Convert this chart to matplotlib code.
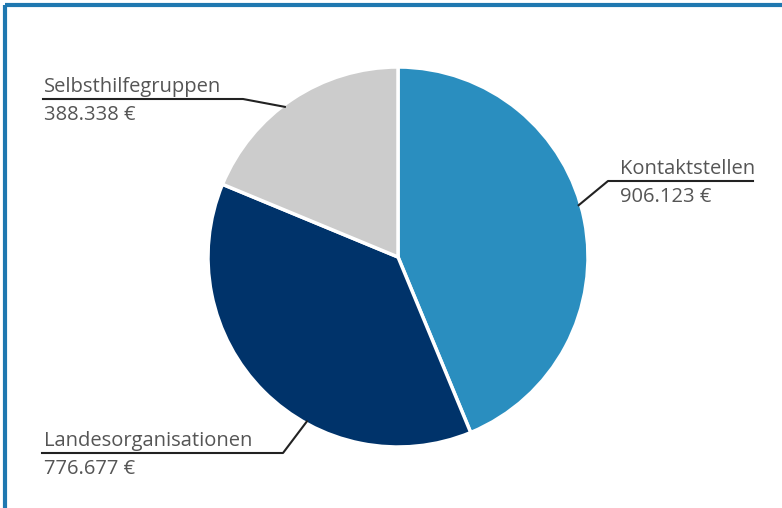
import numpy as np
import matplotlib.pyplot as plt
from matplotlib import font_manager

# Funding by recipient group
labels = ['Kontaktstellen', 'Landesorganisationen', 'Selbsthilfegruppen']
values = [906123, 776677, 388338]
colors = ['#2a8ebf', '#00336a', '#cccccc']

families = [f.name for f in font_manager.fontManager.ttflist]
font = 'Liberation Sans Narrow' if 'Liberation Sans Narrow' in families else 'Open Sans'
plt.rcParams['font.family'] = [font, 'DejaVu Sans']

W, H = 782, 508
fig = plt.figure(figsize=(W / 100, H / 100), dpi=100)
ax = fig.add_axes([0, 0, 1, 1])

cx, cy, r = 398, H - 257, 190
ax.pie(values, colors=colors, startangle=90, counterclock=False,
       center=(cx, cy), radius=r, frame=True,
       wedgeprops=dict(edgecolor='white', linewidth=2.5))
ax.set_xlim(0, W)
ax.set_ylim(0, H)
ax.set_aspect('equal')
ax.axis('off')

# frame: top and left edges only
ax.plot([5, W], [H - 5, H - 5], color='#1f78b0', lw=3, solid_capstyle='butt')
ax.plot([5, 5], [0, H - 5], color='#1f78b0', lw=3, solid_capstyle='butt')

# label placement: (angle on wedge, elbow x, underline y, text x, line start x)
layout = {
    'Kontaktstellen': (16, 608, H - 181, 620, 753),
    'Selbsthilfegruppen': (127, 243, H - 99, 44, 43),
    'Landesorganisationen': (-119, 283, H - 453, 44, 42),
}

for name, val in zip(labels, values):
    ang, ex, uy, tx, sx = layout[name]
    px = cx + (r - 2) * np.cos(np.radians(ang))
    py = cy + (r - 2) * np.sin(np.radians(ang))
    ax.plot([px, ex, sx], [py, uy, uy], color='#222222', lw=1.5)
    ax.text(tx, uy + 2, name, fontsize=14.5, color='#555555', ha='left', va='bottom')
    txt = f'{val:,}'.replace(',', '.') + ' €'
    ax.text(tx, uy - 6, txt, fontsize=14.5, color='#555555', ha='left', va='top')

fig.savefig('out.png', dpi=100)
